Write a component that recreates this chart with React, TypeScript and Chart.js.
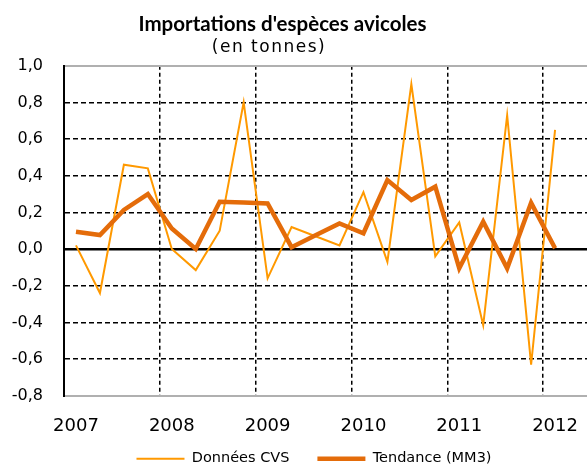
import React, { useEffect, useRef } from "react";
import { Chart, registerables } from "chart.js";

Chart.register(...registerables);

const TITLE = "Importations d'espèces avicoles";
const SUBTITLE = "(en tonnes)";
const seriesNames = ["Données CVS", "Tendance (MM3)"];

const periods = [
  "2007 T1", "2007 T2", "2007 T3", "2007 T4",
  "2008 T1", "2008 T2", "2008 T3", "2008 T4",
  "2009 T1", "2009 T2", "2009 T3", "2009 T4",
  "2010 T1", "2010 T2", "2010 T3", "2010 T4",
  "2011 T1", "2011 T2", "2011 T3", "2011 T4",
  "2012 T1", "2012 T2",
];

const donneesCVS = [
  0.02, -0.24, 0.46, 0.44,
  0.0, -0.115, 0.1, 0.8,
  -0.16, 0.12, 0.07, 0.02,
  0.31, -0.07, 0.9, -0.04,
  0.145, -0.415, 0.73, -0.63,
  0.65,
];

const tendance = [
  0.094, 0.076, 0.213, 0.3,
  0.112, 0.0, 0.258, 0.254,
  0.249, 0.01, 0.075, 0.14,
  0.086, 0.376, 0.267, 0.34,
  -0.105, 0.149, -0.105, 0.252,
  0.004,
];

const Y_MIN = -0.8;
const Y_MAX = 1.0;
const Y_STEP = 0.2;

const near = (a: number, b: number) => Math.abs(a - b) < 1e-6;

const decor = {
  id: "decor",
  afterLayout(chart: any) {
    const lg = chart.legend;
    if (lg) {
      lg.left += 18.5;
      lg.right += 18.5;
      lg.top -= 14.3;
      lg.bottom -= 14.3;
    }
  },
  afterDraw(chart: any) {
    const ctx = chart.ctx as CanvasRenderingContext2D;
    ctx.save();
    ctx.fillStyle = "#000";
    ctx.textAlign = "center";
    ctx.textBaseline = "alphabetic";
    ctx.font = "bold 20.5px Lato";
    ctx.fillText(TITLE, 282.5, 31);
    ctx.font = "17px 'DejaVu Sans'";
    (ctx as any).letterSpacing = "1.5px";
    ctx.fillText(SUBTITLE, 269, 52);
    ctx.restore();
  },
};

export default function App() {
  const ref = useRef<HTMLCanvasElement | null>(null);

  useEffect(() => {
    if (!ref.current) return;
    const chart = new Chart(ref.current, {
      type: "line",
      data: {
        labels: periods,
        datasets: [
          {
            label: seriesNames[0],
            data: donneesCVS,
            borderColor: "#FF9900",
            backgroundColor: "#FF9900",
            borderWidth: 2,
            pointRadius: 0,
            tension: 0,
            order: 1,
          },
          {
            label: seriesNames[1],
            data: tendance,
            borderColor: "#E46C0A",
            backgroundColor: "#E46C0A",
            borderWidth: 4.5,
            pointRadius: 0,
            tension: 0,
            order: 0,
          },
        ],
      },
      options: {
        responsive: false,
        animation: false,
        layout: { padding: { top: 65.7, left: 0, right: 0, bottom: -23.2 } },
        plugins: {
          title: { display: false },
          tooltip: { enabled: false },
          legend: {
            position: "bottom",
            labels: {
              usePointStyle: true,
              pointStyle: "line",
              pointStyleWidth: 48,
              padding: 28,
              color: "#000",
              font: { family: "'DejaVu Sans'", size: 14.5 },
              sort: (a: any, b: any) => a.datasetIndex - b.datasetIndex,
            },
          },
        },
        scales: {
          x: {
            type: "category",
            offset: true,
            grid: {
              offset: true,
              drawTicks: false,
              lineWidth: 1.5,
              color: (c: any) =>
                typeof c.index === "number" && c.index > 0 && c.index % 4 === 0
                  ? "#000"
                  : "rgba(0,0,0,0)",
            },
            border: { display: false, dash: [4, 3] },
            ticks: {
              autoSkip: false,
              maxRotation: 0,
              minRotation: 0,
              padding: 19.5,
              color: "#000",
              font: { family: "'DejaVu Sans'", size: 18 },
              callback: (_v: any, i: number) => {
                const p = periods[i];
                return p && p.endsWith("T1") ? p.slice(0, 4) : "";
              },
            },
            afterFit: (s: any) => {
              s.height = 42;
              s.paddingLeft = 0;
              s.paddingRight = 0;
            },
          },
          y: {
            min: Y_MIN,
            max: Y_MAX,
            ticks: {
              stepSize: Y_STEP,
              padding: 21,
              color: "#000",
              font: { family: "'DejaVu Sans'", size: 16 },
              callback: (v: any) => {
                const n = Math.abs(Number(v)) < 1e-9 ? 0 : Number(v);
                return n.toFixed(1).replace(".", ",");
              },
            },
            grid: {
              drawTicks: false,
              color: (c: any) => {
                const v = c.tick ? c.tick.value : NaN;
                if (near(v, Y_MAX) || near(v, Y_MIN)) return "#B0B0B0";
                return "#000";
              },
              lineWidth: (c: any) => {
                const v = c.tick ? c.tick.value : NaN;
                if (near(v, 0)) return 2.5;
                if (near(v, Y_MAX) || near(v, Y_MIN)) return 2;
                return 1.5;
              },
            },
            border: {
              display: true,
              color: "#000",
              width: 2,
              dash: (c: any) => {
                const v = c.tick ? c.tick.value : NaN;
                if (isNaN(v) || near(v, 0) || near(v, Y_MAX) || near(v, Y_MIN)) return [];
                return [5, 3];
              },
            },
            afterFit: (s: any) => {
              s.width = 64;
            },
          },
        },
      },
      plugins: [decor],
    } as any);
    return () => chart.destroy();
  }, []);

  return (
    <div
      style={{
        position: "fixed",
        left: 0,
        top: 0,
        width: 587,
        height: 467,
        overflow: "hidden",
        background: "#fff",
      }}
    >
      <canvas
        ref={ref}
        width={591}
        height={467}
        style={{ display: "block", width: 591, height: 467 }}
      />
    </div>
  );
}
